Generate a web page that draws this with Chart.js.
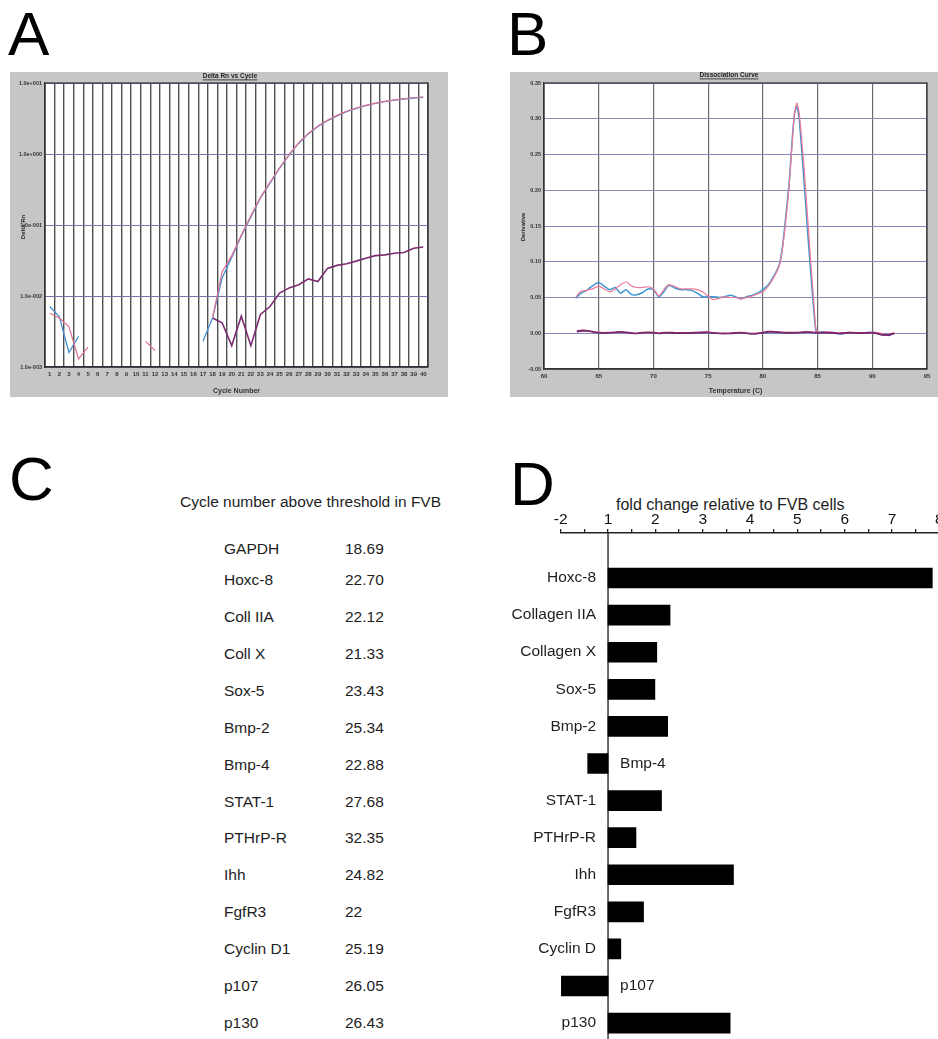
<!DOCTYPE html>
<html><head><meta charset="utf-8">
<script src="https://cdn.jsdelivr.net/npm/chart.js@4.4.1/dist/chart.umd.min.js"></script>
<style>
html,body{margin:0;padding:0;background:#fff;width:938px;height:1039px;overflow:hidden;position:relative;font-family:"Liberation Sans",Arial,Helvetica,sans-serif;color:#1a1a1a;}
canvas{position:absolute;display:block;}
.letter{position:absolute;font-size:62px;line-height:62px;color:#000;}
.txt{position:absolute;font-size:15.5px;line-height:20px;white-space:nowrap;color:#1e1e1e;}
</style></head><body>
<div class="letter" style="left:8px;top:3px">A</div>
<div class="letter" style="left:507px;top:3px">B</div>
<div class="letter" style="left:9px;top:448px">C</div>
<div class="letter" style="left:510px;top:453px">D</div>
<canvas id="cA" width="438" height="325" style="left:10px;top:72px"></canvas>
<canvas id="cB" width="428" height="325" style="left:510px;top:72px"></canvas>
<div id="tableC"></div>
<div class="txt" style="left:616px;top:495px;font-size:16px">fold change relative to FVB cells</div>
<canvas id="cD" width="470" height="545" style="left:490px;top:500px"></canvas>
<script>
// ---------- Panel A data (Delta Rn vs Cycle) ----------
const cyclesA = [1,2,3,4,5,6,7,8,9,10,11,12,13,14,15,16,17,18,19,20,21,22,23,24,25,26,27,28,29,30,31,32,33,34,35,36,37,38,39,40];
const blueA = [0.0071,0.0051,0.0016,0.0027,null,null,null,null,null,null,null,null,null,null,null,null,
  0.0023,0.0049,0.018,0.035,0.070,0.13,0.24,0.39,0.63,0.97,1.42,1.92,2.45,2.95,3.45,3.95,4.4,4.8,5.15,5.45,5.75,5.95,6.15,6.3];
const redA = [0.0057,0.0049,0.0037,0.0013,0.0019,null,null,null,null,null,0.0023,0.0017,null,null,null,null,
  null,0.0049,0.022,0.037,0.072,0.135,0.245,0.40,0.64,0.99,1.45,1.95,2.48,2.98,3.5,4.0,4.45,4.85,5.2,5.5,5.8,6.0,6.2,6.35];
const lowA = [null,null,null,null,null,null,null,null,null,null,null,null,null,null,null,null,
  null,0.0049,0.0042,0.0020,0.0052,0.0020,0.0055,0.0071,0.011,0.013,0.0144,0.0174,0.016,0.0245,0.027,0.0285,0.031,0.034,0.037,0.038,0.040,0.041,0.047,0.049];
const yTicksA = [0.001,0.01,0.1,1,10];

// ---------- Panel B data (Dissociation Curve) ----------
const tempB = [62.9,63.3,63.9,64.4,65.0,65.5,66.0,66.5,67.0,67.5,68.0,68.5,69.0,69.5,70.0,70.5,71.0,71.4,72.0,72.5,73.0,73.5,74.0,74.5,75.0,75.5,76.0,76.5,77.0,77.5,78.0,78.5,79.0,79.5,80.0,80.5,81.0,81.5,81.8,82.1,82.4,82.7,82.9,83.1,83.3,83.5,83.8,84.1,84.4,84.7,84.9,85.5,86.0,86.5,87.0,87.5,88.0,88.5,89.0,89.5,90.0,90.5,91.0,91.5,92.0];
const blueB = [0.049,0.055,0.060,0.066,0.071,0.066,0.061,0.064,0.056,0.061,0.054,0.054,0.057,0.062,0.061,0.051,0.059,0.067,0.063,0.061,0.061,0.060,0.056,0.051,0.051,0.051,0.050,0.051,0.053,0.051,0.048,0.051,0.053,0.056,0.061,0.068,0.080,0.096,0.122,0.164,0.210,0.275,0.308,0.317,0.303,0.266,0.205,0.140,0.080,0.024,0.001,0.002,0.001,0.001,-0.001,0.000,0.001,0.000,0.000,0.001,0.001,0.000,-0.002,-0.003,0.000];
const redB = [0.050,0.058,0.060,0.062,0.066,0.062,0.058,0.062,0.068,0.072,0.066,0.064,0.064,0.065,0.062,0.052,0.062,0.068,0.065,0.062,0.062,0.062,0.061,0.058,0.052,0.047,0.049,0.051,0.050,0.050,0.048,0.050,0.052,0.055,0.058,0.066,0.078,0.094,0.118,0.158,0.205,0.270,0.308,0.322,0.310,0.280,0.225,0.160,0.095,0.035,0.003,0.001,0.002,0.001,0.000,0.001,0.001,0.000,0.001,0.000,0.001,0.001,-0.001,-0.002,0.001];
const tempLowB = [63.0,63.5,64.0,64.5,65.0,65.5,66.0,66.5,67.0,67.5,68.0,68.5,69.0,69.5,70.0,70.5,71.0,72.0,73.0,74.0,75.0,76.0,77.0,78.0,79.0,80.0,80.5,81.0,82.0,83.0,84.0,85.0,86.0,87.0,88.0,89.0,90.0,91.0,91.5,92.0];
const lowB1 = [0.003,0.004,0.0035,0.002,0.001,0.0008,0.001,0.0015,0.002,0.0015,0.0005,0.0,0.001,0.0015,0.001,0.0,0.001,0.0008,0.0005,0.001,0.0015,0.0,0.0,0.001,-0.0005,0.001,0.0025,0.002,0.001,0.001,0.002,0.001,0.001,0.0,0.001,0.0005,0.001,-0.002,-0.002,0.0];
const lowB2 = [0.002,0.003,0.003,0.0015,0.0005,0.0,0.0005,0.001,0.0015,0.001,0.0,-0.0005,0.0005,0.001,0.0005,-0.0005,0.0005,0.0,0.0,0.0005,0.001,-0.0005,-0.0005,0.0005,-0.001,0.0005,0.0015,0.0015,0.0005,0.0005,0.0015,0.0005,0.0005,-0.0005,0.0005,0.0,0.0005,-0.0025,-0.0025,-0.0005];

// ---------- Panel C data (table) ----------
const tableGenes = ['GAPDH','Hoxc-8','Coll IIA','Coll X','Sox-5','Bmp-2','Bmp-4','STAT-1','PTHrP-R','Ihh','FgfR3','Cyclin D1','p107','p130'];
const tableCt = ['18.69','22.70','22.12','21.33','23.43','25.34','22.88','27.68','32.35','24.82','22','25.19','26.05','26.43'];

// ---------- Panel D data (fold change) ----------
const foldGenes = ['Hoxc-8','Collagen IIA','Collagen X','Sox-5','Bmp-2','Bmp-4','STAT-1','PTHrP-R','Ihh','FgfR3','Cyclin D','p107','p130'];
const foldChange = [7.85,2.31,2.03,1.99,2.26,-1.43,2.13,1.59,3.65,1.75,1.27,-2.0,3.58];
const foldTickLabels = ['-2','1','2','3','4','5','6','7','8'];

// ================= helpers =================
const FONT = '"Liberation Sans", Arial, Helvetica, sans-serif';
function bgPlugin(gray){
  return {id:'bg', beforeDraw(chart){
    const {ctx, chartArea:a} = chart;
    ctx.save();
    ctx.fillStyle = gray; ctx.fillRect(0,0,chart.width,chart.height);
    ctx.fillStyle = '#fff'; ctx.fillRect(a.left,a.top,a.right-a.left,a.bottom-a.top);
    ctx.restore();
  }};
}
function decoPlugin(title, ytitle, tx, ty){
  return {id:'deco', afterDraw(chart){
    const {ctx, chartArea:a} = chart;
    ctx.save();
    ctx.strokeStyle = '#333'; ctx.lineWidth = 1.2;
    ctx.strokeRect(a.left, a.top, a.right-a.left, a.bottom-a.top);
    ctx.fillStyle = '#222';
    ctx.font = 'bold 6.5px ' + FONT;
    ctx.textAlign = 'center'; ctx.textBaseline = 'middle';
    ctx.fillText(title, tx, ty);
    const w = ctx.measureText(title).width;
    ctx.fillRect(tx - w/2, ty + 3.5, w, 0.8);
    ctx.translate(13, 155); ctx.rotate(-Math.PI/2);
    ctx.font = 'bold 6px ' + FONT;
    ctx.fillText(ytitle, 0, 0);
    ctx.restore();
  }};
}
function expLabel(v){
  const e = Math.round(Math.log10(v));
  return '1.0e' + (e < 0 ? '-' : '+') + String(Math.abs(e)).padStart(3,'0');
}

// ================= Panel A =================
new Chart(document.getElementById('cA'), {
  type:'line',
  data:{labels: cyclesA.map(String), datasets:[
    {data: redA, borderColor:'#e0708e', borderWidth:1.2, pointRadius:0, tension:0, spanGaps:false},
    {data: blueA, borderColor:'#4a8fd2', borderWidth:1.3, pointRadius:0, tension:0, spanGaps:false},
    {data: lowA, borderColor:'#7b2c72', borderWidth:1.6, pointRadius:0, tension:0, spanGaps:false}
  ]},
  options:{
    responsive:false, animation:false, events:[],
    layout:{padding:{left:2,right:20,top:11,bottom:2}},
    plugins:{legend:{display:false}, tooltip:{enabled:false}},
    scales:{
      x:{type:'category', offset:true,
        grid:{offset:true, color:'#505050', lineWidth:1.4, drawTicks:false},
        border:{color:'#333', width:1.2},
        ticks:{autoSkip:false, maxRotation:0, minRotation:0, padding:4, color:'#333', font:{size:6, weight:'bold', family:FONT}},
        title:{display:true, text:'Cycle Number', color:'#333', font:{size:7, weight:'bold', family:FONT}, padding:{top:1,bottom:0}},
        afterFit(s){ s.height = 28; }
      },
      y:{type:'logarithmic', min:0.001, max:10,
        afterBuildTicks(s){ s.ticks = yTicksA.map(v=>({value:v})); },
        grid:{color:'#7a74a8', lineWidth:1, drawTicks:false},
        border:{color:'#333', width:1.2},
        ticks:{padding:3, color:'#333', font:{size:5.5, weight:'bold', family:FONT}, callback:(v)=>expLabel(v)},
        afterFit(s){ s.width = 33; }
      }
    }
  },
  plugins:[bgPlugin('#c6c6c6'), decoPlugin('Delta Rn vs Cycle','Delta Rn',220,4)]
});

// ================= Panel B =================
const pts = (xs, ys) => xs.map((x,i)=>({x:x, y:ys[i]}));
new Chart(document.getElementById('cB'), {
  type:'line',
  data:{datasets:[
    {data: pts(tempLowB, lowB1), borderColor:'#8a2462', borderWidth:1.6, pointRadius:0, tension:0.3},
    {data: pts(tempLowB, lowB2), borderColor:'#3a3c8c', borderWidth:1.3, pointRadius:0, tension:0.3},
    {data: pts(tempB, redB), borderColor:'#f07a96', borderWidth:1.2, pointRadius:0, tension:0.2},
    {data: pts(tempB, blueB), borderColor:'#3f95d2', borderWidth:1.5, pointRadius:0, tension:0.2}
  ]},
  options:{
    responsive:false, animation:false, events:[],
    layout:{padding:{left:2,right:11,top:11,bottom:2}},
    plugins:{legend:{display:false}, tooltip:{enabled:false}},
    scales:{
      x:{type:'linear', min:60, max:95,
        grid:{color:'#6c6c6c', lineWidth:1.2, drawTicks:false},
        border:{color:'#333', width:1.2},
        ticks:{stepSize:5, padding:4, color:'#333', font:{size:6, weight:'bold', family:FONT}},
        title:{display:true, text:'Temperature (C)', color:'#333', font:{size:7, weight:'bold', family:FONT}, padding:{top:1,bottom:0}},
        afterFit(s){ s.height = 26; }
      },
      y:{type:'linear', min:-0.05, max:0.35,
        grid:{color:'#8c86b8', lineWidth:1, drawTicks:false},
        border:{color:'#333', width:1.2},
        ticks:{stepSize:0.05, padding:3, color:'#333', font:{size:5.5, weight:'bold', family:FONT},
          callback:(v)=> Math.abs(v) < 1e-9 ? '0.00' : v.toFixed(2)},
        afterFit(s){ s.width = 32; }
      }
    }
  },
  plugins:[bgPlugin('#c6c6c6'), decoPlugin('Dissociation Curve','Derivative',219,3)]
});

// ================= Panel C (table text) =================
(function(){
  const host = document.getElementById('tableC');
  const title = document.createElement('div');
  title.className = 'txt'; title.style.left = '180px'; title.style.top = '492px'; title.style.fontSize = '15.5px';
  title.textContent = 'Cycle number above threshold in FVB';
  host.appendChild(title);
  tableGenes.forEach((g,i)=>{
    const cy = i === 0 ? 549 : 580 + (i-1)*36.92;
    const a = document.createElement('div');
    a.className = 'txt'; a.style.left = '224px'; a.style.top = (cy-10)+'px'; a.textContent = g;
    const b = document.createElement('div');
    b.className = 'txt'; b.style.left = '345px'; b.style.top = (cy-10)+'px'; b.textContent = tableCt[i];
    host.appendChild(a); host.appendChild(b);
  });
})();

// ================= Panel D =================
const toPos = (f) => f >= 1 ? f : f + 2;   // axis shows "-2" one unit left of 1
const dPlugin = {id:'dlabels',
  beforeDatasetsDraw(chart){
    const {ctx, chartArea:a} = chart; const x1 = chart.scales.x.getPixelForValue(1);
    ctx.save(); ctx.strokeStyle = '#3a3a3a'; ctx.lineWidth = 1.5;
    ctx.beginPath(); ctx.moveTo(x1, a.top); ctx.lineTo(x1, chart.height); ctx.stroke(); ctx.restore();
  },
  afterDatasetsDraw(chart){
    const {ctx} = chart; const xs = chart.scales.x, ys = chart.scales.y;
    const x1 = xs.getPixelForValue(1);
    ctx.save(); ctx.fillStyle = '#1e1e1e'; ctx.font = '15.5px ' + FONT; ctx.textBaseline = 'middle';
    foldGenes.forEach((g,i)=>{
      const y = ys.getPixelForValue(i);
      if (foldChange[i] > 0){ ctx.textAlign = 'right'; ctx.fillText(g, x1 - 12, y); }
      else { ctx.textAlign = 'left'; ctx.fillText(g, x1 + 12, y); }
    });
    ctx.restore();
  }
};
new Chart(document.getElementById('cD'), {
  type:'bar',
  data:{datasets:[{
    data: foldGenes.map((g,i)=>({x:[1, toPos(foldChange[i])], y:i})),
    backgroundColor:'#000', borderWidth:0, barThickness:20
  }]},
  options:{
    indexAxis:'y', responsive:false, animation:false, events:[],
    layout:{padding:{left:70.7,right:20.6,top:5,bottom:0}},
    plugins:{legend:{display:false}, tooltip:{enabled:false}},
    scales:{
      x:{type:'linear', position:'top', min:0, max:8,
        grid:{drawOnChartArea:false, drawTicks:true, tickLength:4, color:'#222', lineWidth:1.3},
        border:{display:true, color:'#222', width:1.5},
        ticks:{stepSize:0.5, autoSkip:false, maxRotation:0, padding:0, color:'#111', font:{size:15.5, family:FONT},
          callback:(v)=> Number.isInteger(v) ? foldTickLabels[v] : ''},
        afterFit(s){ s.height = 28; }
      },
      y:{type:'linear', reverse:true, min:-1.214, max:12.59, offset:false, display:false}
    }
  },
  plugins:[dPlugin]
});
</script>
</body></html>
